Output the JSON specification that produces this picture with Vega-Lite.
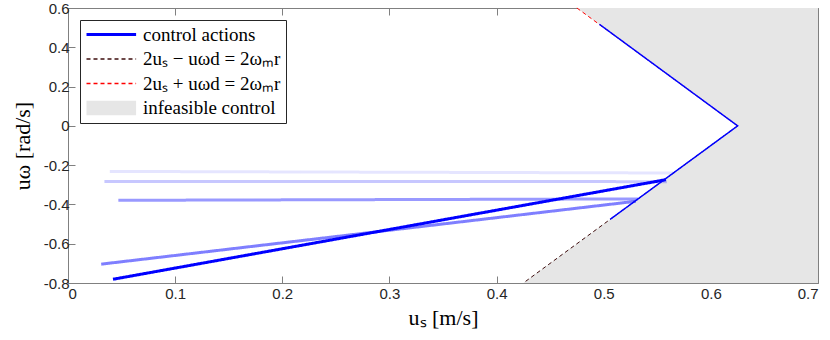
{
  "$schema": "https://vega.github.io/schema/vega-lite/v6.json",
  "width": 750,
  "height": 275,
  "autosize": {"type": "none"},
  "padding": {"left": 68, "top": 8, "right": 12, "bottom": 57},
  "background": "white",
  "config": {
    "view": {"stroke": "#808080", "strokeWidth": 1},
    "axis": {
      "domain": false,
      "grid": false,
      "tickSize": -7,
      "tickColor": "#808080",
      "labelFont": "Liberation Sans",
      "labelFontSize": 15,
      "labelColor": "#262626",
      "titleFont": "Liberation Serif",
      "titleFontSize": 22,
      "titleFontWeight": "normal",
      "titleColor": "#000000"
    },
    "legend": {
      "labelFont": "Liberation Serif",
      "labelFontSize": 19,
      "labelColor": "#000000"
    }
  },
  "datasets": {
    "region": [
      {"series": "infeasible control", "us": 0.475, "uw": 0.6},
      {"series": "infeasible control", "us": 0.625, "uw": 0.0},
      {"series": "infeasible control", "us": 0.425, "uw": -0.8}
    ],
    "edges": [
      {"series": "2uₛ + uωd = 2ωₘr", "i": 1, "us": 0.475, "uw": 0.6},
      {"series": "2uₛ + uωd = 2ωₘr", "i": 2, "us": 0.625, "uw": 0.0},
      {"series": "2uₛ − uωd = 2ωₘr", "i": 1, "us": 0.625, "uw": 0.0},
      {"series": "2uₛ − uωd = 2ωₘr", "i": 2, "us": 0.425, "uw": -0.8}
    ],
    "edgeActions": [
      {"series": "control actions", "i": 1, "us": 0.496, "uw": 0.517},
      {"series": "control actions", "i": 2, "us": 0.625, "uw": 0.0},
      {"series": "control actions", "i": 3, "us": 0.506, "uw": -0.476}
    ],
    "actions": [
      {"series": "control actions", "seg": "e", "us": 0.039, "uw": -0.232},
      {"series": "control actions", "seg": "e", "us": 0.565, "uw": -0.240},
      {"series": "control actions", "seg": "d", "us": 0.034, "uw": -0.283},
      {"series": "control actions", "seg": "d", "us": 0.559, "uw": -0.284},
      {"series": "control actions", "seg": "c", "us": 0.047, "uw": -0.379},
      {"series": "control actions", "seg": "c", "us": 0.532, "uw": -0.372},
      {"series": "control actions", "seg": "b", "us": 0.031, "uw": -0.704},
      {"series": "control actions", "seg": "b", "us": 0.530, "uw": -0.384},
      {"series": "control actions", "seg": "a", "us": 0.042, "uw": -0.781},
      {"series": "control actions", "seg": "a", "us": 0.558, "uw": -0.274}
    ]
  },
  "resolve": {"axis": {"x": "independent", "y": "independent"}},
  "layer": [
    {
      "data": {"name": "region"},
      "mark": {"type": "area", "orient": "horizontal"},
      "encoding": {
        "y": {
          "field": "uw", "type": "quantitative",
          "scale": {"domain": [-0.8, 0.6], "nice": false, "zero": false},
          "axis": {
            "orient": "left",
            "values": [-0.8, -0.6, -0.4, -0.2, 0, 0.2, 0.4, 0.6],
            "labelExpr": "replace(format(datum.value, '.1~f'), '−', '-')",
            "labelPadding": 6,
            "title": "uω [rad/s]",
            "titlePadding": 9
          }
        },
        "x": {
          "field": "us", "type": "quantitative",
          "scale": {"domain": [0, 0.7], "nice": false, "zero": false},
          "axis": {
            "orient": "bottom",
            "values": [0, 0.1, 0.2, 0.3, 0.4, 0.5, 0.6, 0.7],
            "labelExpr": "replace(format(datum.value, '.1~f'), '−', '-')",
            "labelPadding": 10,
            "title": "uₛ [m/s]",
            "titlePadding": 6
          }
        },
        "x2": {"datum": 0.7},
        "color": {
          "field": "series", "type": "nominal",
          "scale": {
            "domain": ["control actions", "2uₛ − uωd = 2ωₘr", "2uₛ + uωd = 2ωₘr", "infeasible control"],
            "range": ["#0000ff", "#3d0c0c", "#ff0000", "#e6e6e6"]
          },
          "legend": {
            "title": null,
            "orient": "top-left",
            "offset": 12,
            "padding": 5,
            "fillColor": "white",
            "strokeColor": "#262626",
            "labelFont": "Liberation Serif",
            "labelFontSize": 19,
            "symbolType": "M-1,0H5.2",
            "symbolSize": 256,
            "symbolStrokeWidth": 2,
            "labelOffset": 39,
            "rowPadding": 4.5,
            "encode": {
              "symbols": {
                "update": {
                  "shape": {"signal": "datum.value == 'infeasible control' ? 'M-1,-0.9H5.2V0.9H-1Z' : 'M-1,0H5.2'"},
                  "fill": {"signal": "datum.value == 'infeasible control' ? '#e6e6e6' : 'transparent'"},
                  "stroke": {"signal": "datum.value == 'infeasible control' ? 'transparent' : scale('color', datum.value)"},
                  "opacity": {"value": 1},
                  "strokeWidth": {"signal": "datum.value == 'infeasible control' ? 0 : datum.value == 'control actions' ? 3 : 1.5"}
                }
              }
            }
          }
        }
      }
    },
    {
      "data": {"name": "edges"},
      "mark": {"type": "line", "strokeWidth": 1},
      "encoding": {
        "x": {"field": "us", "type": "quantitative",
          "axis": {"orient": "top", "values": [0, 0.1, 0.2, 0.3, 0.4, 0.5, 0.6, 0.7], "labels": false, "title": null}},
        "y": {"field": "uw", "type": "quantitative",
          "axis": {"orient": "right", "values": [-0.8, -0.6, -0.4, -0.2, 0, 0.2, 0.4, 0.6], "labels": false, "title": null}},
        "order": {"field": "i", "type": "quantitative"},
        "color": {"field": "series", "type": "nominal"},
        "strokeDash": {
          "field": "series", "type": "nominal",
          "scale": {
            "domain": ["control actions", "2uₛ − uωd = 2ωₘr", "2uₛ + uωd = 2ωₘr", "infeasible control"],
            "range": [[1, 0], [4, 3], [4, 3], [1, 0]]
          },
          "legend": {"title": null}
        }
      }
    },
    {
      "data": {"name": "edgeActions"},
      "mark": {"type": "line", "strokeWidth": 1.5},
      "encoding": {
        "x": {"field": "us", "type": "quantitative", "axis": null},
        "y": {"field": "uw", "type": "quantitative", "axis": null},
        "order": {"field": "i", "type": "quantitative"},
        "color": {"field": "series", "type": "nominal"},
        "strokeDash": {"field": "series", "type": "nominal"}
      }
    },
    {
      "data": {"name": "actions"},
      "mark": {"type": "line", "strokeWidth": 3},
      "encoding": {
        "x": {"field": "us", "type": "quantitative", "axis": null},
        "y": {"field": "uw", "type": "quantitative", "axis": null},
        "detail": {"field": "seg", "type": "nominal"},
        "opacity": {
          "field": "seg", "type": "ordinal",
          "scale": {"type": "ordinal", "domain": ["a", "b", "c", "d", "e"], "range": [1, 0.5, 0.4, 0.22, 0.1]},
          "legend": null
        },
        "color": {"field": "series", "type": "nominal"},
        "strokeDash": {"field": "series", "type": "nominal"}
      }
    }
  ]
}
